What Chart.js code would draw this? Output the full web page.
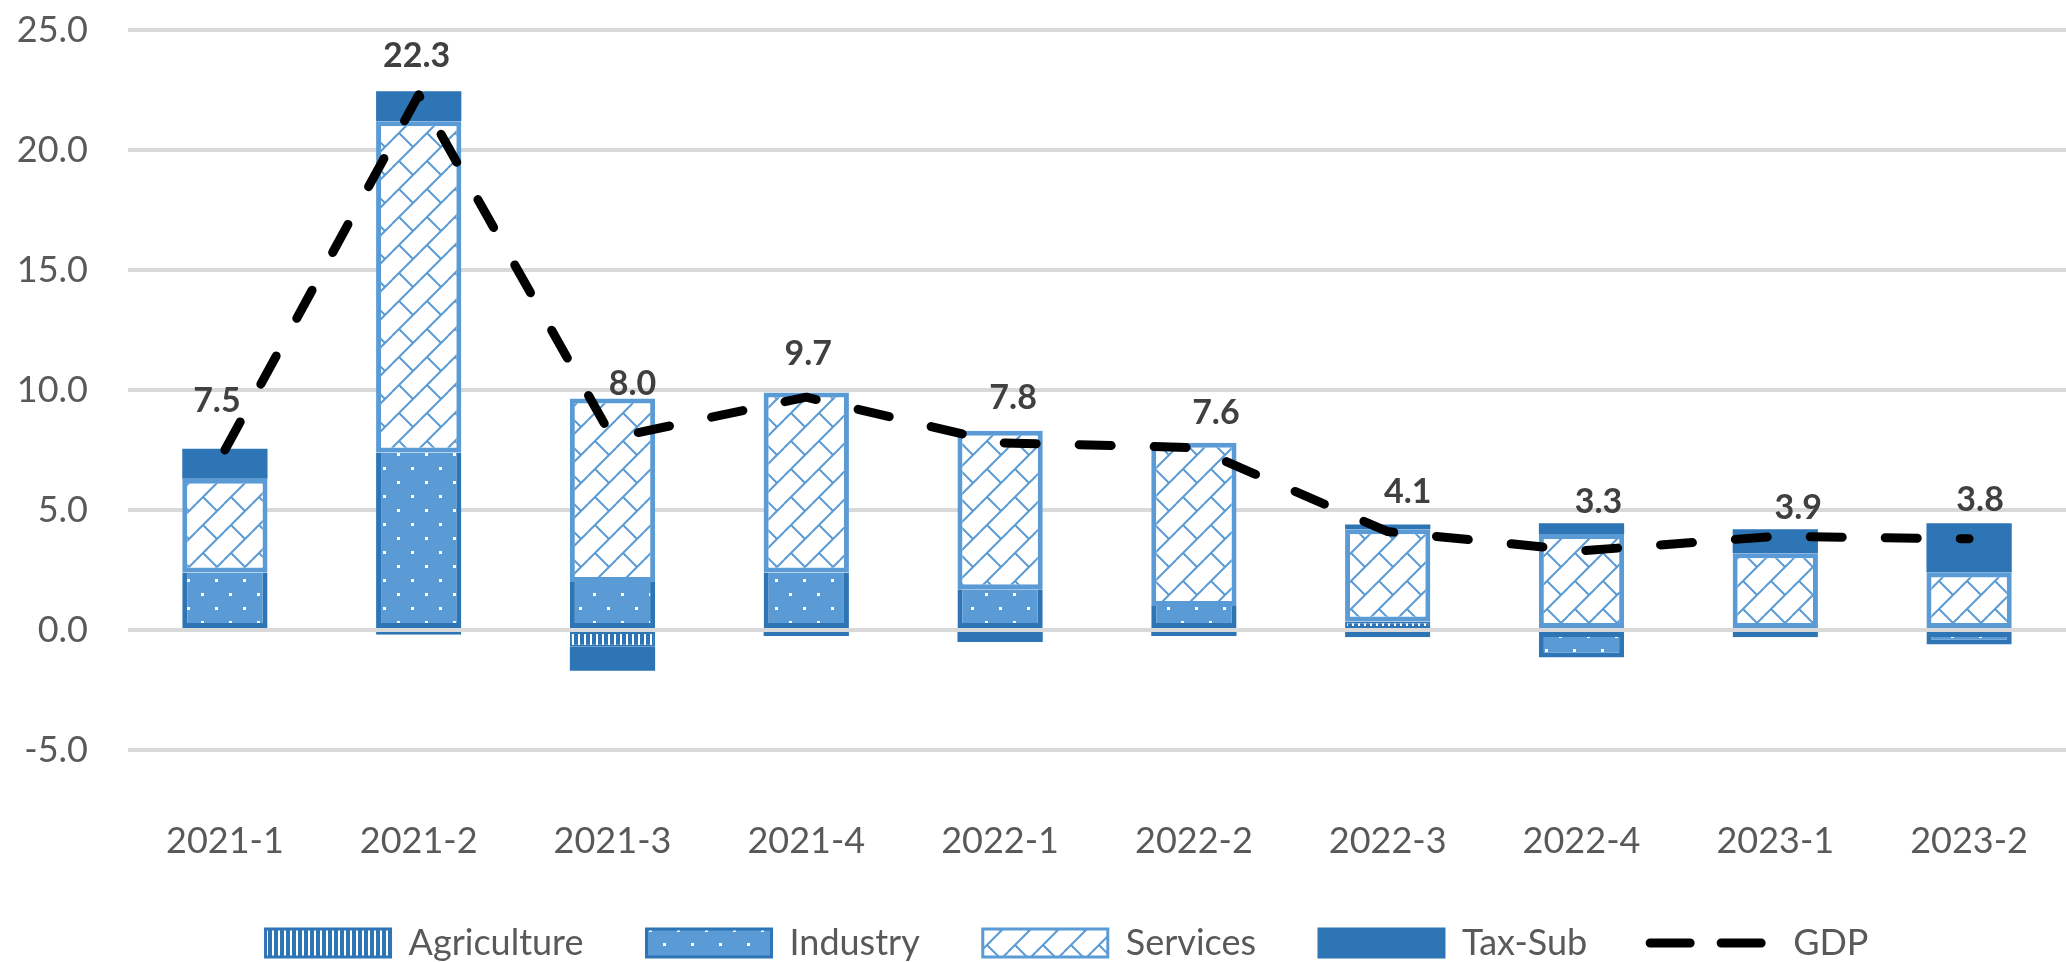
<!DOCTYPE html>
<html>
<head>
<meta charset="utf-8">
<title>GDP growth contributions</title>
<script src="https://cdn.jsdelivr.net/npm/chart.js@4.4.1/dist/chart.umd.min.js"></script>
<style>
html,body{margin:0;padding:0;background:#ffffff;}
.chart-wrap{width:2066px;height:962px;position:relative;}
</style>
</head>
<body>

<div class="chart-wrap"><canvas id="contribChart"></canvas></div>

<script>
/* =====================================
   DATA
===================================== */

const quarters = [
    "2021-1", "2021-2", "2021-3", "2021-4", "2022-1",
    "2022-2", "2022-3", "2022-4", "2023-1", "2023-2"
];

const agriculture = [0, -0.2, -0.7, 0, 0, 0, 0.35, 0, 0, 0];
const industry    = [2.4, 7.4, 2.0, 2.4, 1.7, 1.0, -0.3, -1.15, -0.3, -0.6];
const services    = [3.9, 13.8, 7.65, 7.5, 6.6, 6.8, 3.85, 4.0, 3.2, 2.4];
const taxSub      = [1.25, 1.25, -1.0, -0.25, -0.5, -0.25, 0.2, 0.45, 1.0, 2.05];
const gdp         = [7.5, 22.3, 8.0, 9.7, 7.8, 7.6, 4.1, 3.3, 3.9, 3.8];

const yMin = -5;
const yMax = 25;
const yStep = 5;

/* label nudges (px) - same manual placement as the original */
const labelDx = [-8, -2, 20, 2, 13, 22, 20, 17, 23, 11];
const labelDy = [-50, -40, -55, -44, -46, -36, -41, -50, -29, -40];

/* =====================================
   STYLE
===================================== */

const DARK_BLUE = "#2E75B6";
const MID_BLUE = "#5B9BD5";
const TEXT_GREY = "#595959";
const FONT = "Lato";
const CLEAR = "rgba(0,0,0,0)";

document.addEventListener("DOMContentLoaded", () => {

    initializeContribChart();

});

/* =====================================
   FILL PATTERNS
===================================== */

function makePattern(w, h, draw){

    const tile = document.createElement("canvas");
    tile.width = w;
    tile.height = h;

    const g = tile.getContext("2d");
    draw(g, w, h);

    return g.createPattern(tile, "repeat");

}

function stripePattern(){

    return makePattern(6, 6, (g, w, h) => {
        g.fillStyle = DARK_BLUE;
        g.fillRect(0, 0, w, h);
        g.fillStyle = "#FFFFFF";
        g.fillRect(2, 0, 2, h);
    });

}

function dotPattern(){

    return makePattern(28, 28, (g, w, h) => {
        g.fillStyle = MID_BLUE;
        g.fillRect(0, 0, w, h);
        g.fillStyle = "#FFFFFF";
        g.fillRect(5, 5, 3, 3);
        g.fillRect(19, 19, 3, 3);
    });

}

function shinglePattern(){

    return makePattern(28, 28, (g, w, h) => {
        g.fillStyle = "#FFFFFF";
        g.fillRect(0, 0, w, h);
        g.strokeStyle = MID_BLUE;
        g.lineWidth = 2;
        for(const ox of [-w, 0, w]){
            for(const oy of [-h, 0, h]){
                g.beginPath();
                g.moveTo(ox, oy + h);
                g.lineTo(ox + w, oy);
                g.moveTo(ox + 7, oy + 21);
                g.lineTo(ox + 21, oy + 35);
                g.stroke();
            }
        }
    });

}

/* =====================================
   GDP VALUE LABELS
===================================== */

const gdpLabelPlugin = {

    id: "gdpLabels",

    afterDatasetsDraw(chart){

        const meta = chart.getDatasetMeta(4);
        const c = chart.ctx;

        c.save();
        c.font = "bold 34px " + FONT;
        c.fillStyle = "#404040";
        c.textAlign = "center";
        c.textBaseline = "alphabetic";

        meta.data.forEach((pt, i) => {
            c.fillText(
                gdp[i].toFixed(1),
                pt.x + labelDx[i],
                pt.y + labelDy[i] + 12
            );
        });

        c.restore();

    }

};

/* =====================================
   LEGEND PLACEMENT
   (Excel centres the legend row a bit
   right of the canvas centre)
===================================== */

const legendNudgePlugin = {

    id: "legendNudge",

    afterLayout(chart){

        const lg = chart.legend;

        if(!lg) return;

        lg.left += 68;

    }

};

/* =====================================
   CHART
===================================== */

function initializeContribChart(){

    const ctx = document.getElementById("contribChart");

    if(!ctx) return;

    const tickFont = { family: FONT, size: 36 };

    new Chart(ctx, {

        type: "bar",

        data: {

            labels: quarters,

            datasets: [

                {
                    label: "Agriculture",
                    data: agriculture,
                    backgroundColor: stripePattern(),
                    borderColor: DARK_BLUE,
                    borderWidth: 2,
                    borderSkipped: false,
                    order: 1
                },

                {
                    label: "Industry",
                    data: industry,
                    backgroundColor: dotPattern(),
                    borderColor: DARK_BLUE,
                    borderWidth: 5,
                    borderSkipped: c => (industry[c.dataIndex] >= 0 ? "top" : false),
                    order: 1
                },

                {
                    label: "Services",
                    data: services,
                    backgroundColor: shinglePattern(),
                    borderColor: MID_BLUE,
                    borderWidth: 5,
                    borderSkipped: false,
                    order: 1
                },

                {
                    label: "Tax-Sub",
                    data: taxSub,
                    backgroundColor: DARK_BLUE,
                    borderWidth: 0,
                    order: 1
                },

                {
                    type: "line",
                    label: "GDP",
                    data: gdp,
                    borderColor: "#000000",
                    backgroundColor: "#000000",
                    borderWidth: 9,
                    borderDash: [32, 43],
                    borderCapStyle: "round",
                    borderJoinStyle: "round",
                    pointRadius: 0,
                    tension: 0,
                    fill: false,
                    order: 0
                }

            ]

        },

        options: {

            responsive: true,
            maintainAspectRatio: false,
            animation: false,
            devicePixelRatio: 1,

            layout: {
                padding: { top: 30, right: 0, bottom: 0, left: 0 }
            },

            datasets: {
                bar: {
                    categoryPercentage: 1,
                    barPercentage: 0.44
                }
            },

            scales: {

                x: {
                    stacked: true,
                    grid: {
                        color: CLEAR,
                        drawOnChartArea: false,
                        drawTicks: true,
                        tickLength: 70,
                        tickColor: CLEAR
                    },
                    border: { display: false },
                    ticks: {
                        color: TEXT_GREY,
                        font: tickFont,
                        padding: 0,
                        maxRotation: 0
                    },
                    afterFit(scale){ scale.height = 112; }
                },

                y: {
                    stacked: true,
                    min: yMin,
                    max: yMax,
                    ticks: {
                        stepSize: yStep,
                        color: TEXT_GREY,
                        font: tickFont,
                        padding: 0,
                        callback: v => Number(v).toFixed(1)
                    },
                    grid: {
                        color: "#D9D9D9",
                        lineWidth: 4,
                        drawTicks: true,
                        tickLength: 40,
                        tickColor: CLEAR
                    },
                    border: { display: false },
                    afterFit(scale){ scale.width = 128; }
                }

            },

            plugins: {

                tooltip: { enabled: false },

                legend: {
                    position: "bottom",
                    maxHeight: 100,
                    labels: {
                        usePointStyle: true,
                        pointStyleWidth: 125,
                        boxHeight: 28,
                        padding: 63,
                        color: TEXT_GREY,
                        font: { family: FONT, size: 36 },
                        generateLabels(chart){
                            return chart.data.datasets.map((ds, i) => {
                                const isLine = ds.type === "line";
                                return {
                                    text: ds.label,
                                    datasetIndex: i,
                                    hidden: false,
                                    fontColor: TEXT_GREY,
                                    pointStyle: isLine ? "line" : "rect",
                                    fillStyle: isLine ? CLEAR : ds.backgroundColor,
                                    strokeStyle: isLine ? "#000000" : (ds.borderColor || ds.backgroundColor),
                                    lineWidth: isLine ? 9 : 3,
                                    lineDash: isLine ? [40, 31] : [],
                                    lineCap: isLine ? "round" : "butt"
                                };
                            });
                        }
                    }
                }

            }

        },

        plugins: [gdpLabelPlugin, legendNudgePlugin]

    });

}
</script>

</body>
</html>
